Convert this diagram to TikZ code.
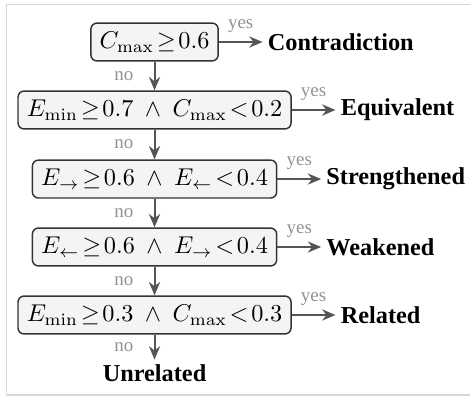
\documentclass[tikz,border=0pt]{standalone}
\usepackage[no-math]{fontspec}
\setmainfont{Liberation Serif}
\usetikzlibrary{arrows.meta, positioning}
\definecolor{edge}{HTML}{555555}
\definecolor{rim}{HTML}{333333}
\definecolor{boxfill}{HTML}{F4F4F4}
\definecolor{note}{HTML}{929292}
\definecolor{frame}{HTML}{D6D6D6}

\begin{document}
\begin{tikzpicture}[
    >={Stealth[length=5.5pt, width=4.6pt]},
    test/.style={draw=rim, fill=boxfill, rounded corners=2.5pt, line width=0.6pt,
        inner xsep=3.6pt, minimum height=15.6pt},
    outc/.style={font=\bfseries, inner sep=2pt},
    flow/.style={->, edge, line width=0.8pt},
    lab/.style={font=\fontsize{7.8}{9}\selectfont, text=note},
]
% page: 470 x 397 px, 1 px = 0.01447 cm
\useasboundingbox (0,0) rectangle (6.801,5.745);

% frame (right side falls off the page)
\draw[frame, line width=0.8pt] (6.801,5.68) -- (0.094,5.68) -- (0.094,0.029) -- (6.801,0.029);

% the tests, top to bottom
\node[test] (c1) at (2.236,5.137) {$C_{\max}\!\geq\!0.6$};
\node[test] (c2) at (2.236,4.153) {$E_{\min}\!\geq\!0.7\ \wedge\ C_{\max}\!<\!0.2$};
\node[test] (c3) at (2.236,3.154) {$E_{\rightarrow}\!\geq\!0.6\ \wedge\ E_{\leftarrow}\!<\!0.4$};
\node[test] (c4) at (2.236,2.171) {$E_{\leftarrow}\!\geq\!0.6\ \wedge\ E_{\rightarrow}\!<\!0.4$};
\node[test] (c5) at (2.236,1.187) {$E_{\min}\!\geq\!0.3\ \wedge\ C_{\max}\!<\!0.3$};

% outcomes
\node[outc, right=18pt of c1] (contra) {Contradiction};
\node[outc, right=18pt of c2] (equiv) {Equivalent};
\node[outc, right=18pt of c3] (strong) {Strengthened};
\node[outc, right=18pt of c4] (weak) {Weakened};
\node[outc, right=18pt of c5] (rel) {Related};
\node[outc, below=0.36cm of c5] (unrel) {Unrelated};

% yes branches
\draw[flow] (c1) -- (contra) node[lab, midway, above=0pt] {yes};
\draw[flow] (c2) -- (equiv) node[lab, midway, above=0pt] {yes};
\draw[flow] (c3) -- (strong) node[lab, midway, above=0pt] {yes};
\draw[flow] (c4) -- (weak) node[lab, midway, above=0pt] {yes};
\draw[flow] (c5) -- (rel) node[lab, midway, above=0pt] {yes};

% no branches
\draw[flow] (c1) -- (c2) node[lab, midway, left=5pt] {no};
\draw[flow] (c2) -- (c3) node[lab, midway, left=5pt] {no};
\draw[flow] (c3) -- (c4) node[lab, midway, left=5pt] {no};
\draw[flow] (c4) -- (c5) node[lab, midway, left=5pt] {no};
\draw[flow] (c5) -- (unrel) node[lab, midway, left=5pt] {no};

\end{tikzpicture}
\end{document}
